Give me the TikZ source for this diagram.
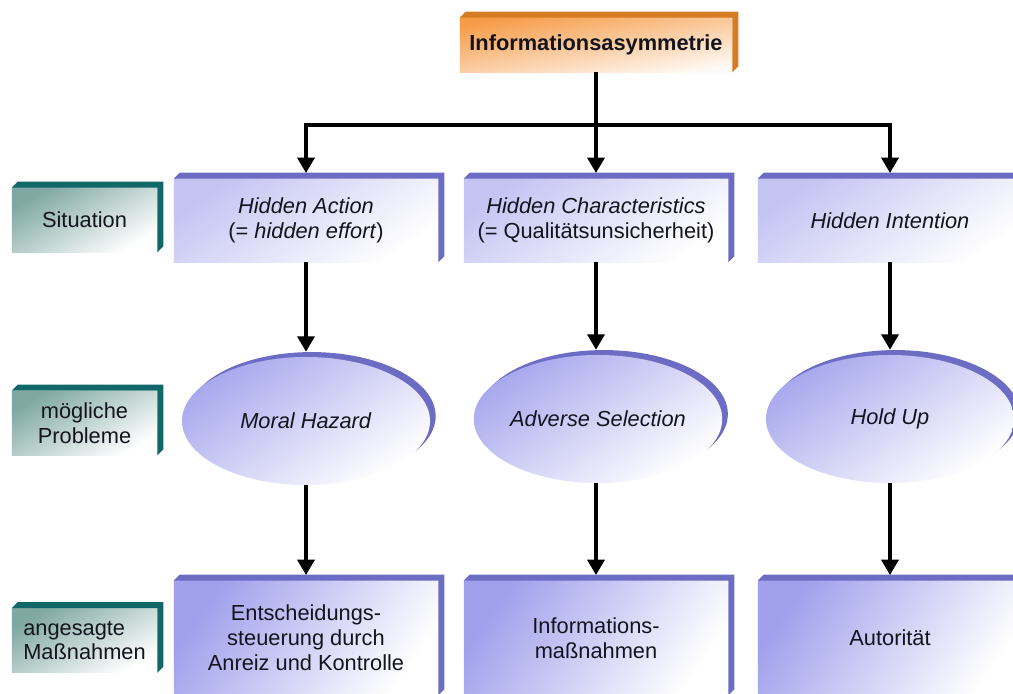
\documentclass[tikz,border=0pt]{standalone}
\usepackage{fontspec}
\setmainfont{Liberation Sans}
\usepackage{tikz}
\usetikzlibrary{shapes.geometric, arrows.meta, shadows}
\usepackage{xcolor}

\definecolor{vio}{RGB}{160,160,236}
\definecolor{viodark}{RGB}{108,108,196}
\definecolor{tealface}{RGB}{128,168,162}
\definecolor{tealdark}{RGB}{18,104,104}
\definecolor{orangeface}{RGB}{246,156,72}
\definecolor{orangedark}{RGB}{214,124,34}
\definecolor{ink}{RGB}{20,20,30}

\newcommand{\extrude}[2]{%
  \fill[#2] (#1.north west) -- ([shift={(6,-6)}]#1.north west)
    -- ([shift={(6,-6)}]#1.north east) -- ([shift={(6,-6)}]#1.south east)
    -- (#1.south east) -- (#1.north east) -- cycle;}

\tikzset{
  box/.style={rectangle, inner sep=0pt, align=center, text=ink,
    font=\fontsize{15.5}{17.7}\selectfont},
  headbox/.style={box, minimum width=6.8cm, minimum height=1.35cm,
    top color=orangeface, bottom color=orangeface!6, shading angle=10,
    font=\fontsize{15.5}{17.7}\selectfont\bfseries},
  sitbox/.style={box, minimum width=6.6cm, minimum height=2.075cm,
    top color=vio!62, bottom color=white, shading angle=35},
  probell/.style={ellipse, inner sep=0pt, minimum width=6.2cm, minimum height=3.2cm,
    text=ink, font=\fontsize{15.5}{17.7}\selectfont,
    top color=vio!92, bottom color=white, shading angle=35,
    drop shadow={shadow xshift=4pt, shadow yshift=3.5pt, fill=viodark, opacity=1}},
  measbox/.style={box, minimum width=6.6cm, minimum height=2.85cm,
    top color=vio, bottom color=white, shading angle=55},
  rowlabel/.style={box, minimum width=3.625cm, minimum height=1.6cm,
    top color=tealface, bottom color=white, shading angle=30},
  conn/.style={line width=3.2pt, -{Triangle[width=12pt,length=11pt]}}
}

\begin{document}
\begin{tikzpicture}[x=0.025cm, y=-0.025cm]

  \clip (0,0) rectangle (1013,693);

  \node[headbox] (info) at (596,45) {Informationsasymmetrie};
  \extrude{info}{orangedark}

  \node[rowlabel] (lsit) at (84.5,220) {Situation};
  \node[sitbox] (hact) at (306,220.5) {\textit{Hidden Action}\\(= \textit{hidden effort})};
  \node[sitbox] (hchar) at (596,220.5) {\textit{Hidden Characteristics}\\(= Qualitätsunsicherheit)};
  \node[sitbox] (hint) at (890,220.5) {\textit{Hidden Intention}};

  \node[rowlabel] (lprob) at (84.5,423) {mögliche\\Probleme};
  \node[probell] (moral) at (306,421) {\textit{Moral Hazard}};
  \node[probell] (adverse) at (598,419) {\textit{Adverse Selection}};
  \node[probell] (holdup) at (890,419) {\textit{Hold Up}};

  \node[rowlabel, align=left] (lmeas) at (84.5,640.5) {angesagte\\Maßnahmen};
  \node[measbox] (steuer) at (306,638) {Entscheidungs-\\steuerung durch\\Anreiz und Kontrolle};
  \node[measbox] (infomass) at (596,638) {Informations-\\maßnahmen};
  \node[measbox] (autor) at (890,638) {Autorität};

  \foreach \n in {lsit, lprob, lmeas}
    \extrude{\n}{tealdark};
  \foreach \n in {hact, hchar, hint, steuer, infomass, autor}
    \extrude{\n}{viodark};

  \coordinate (split) at (596,125);
  \draw[conn] (info.south) -- ([yshift=4pt]hchar.north);
  \draw[conn] (split) -| ([yshift=4pt]hact.north);
  \draw[conn] (split) -| ([yshift=4pt]hint.north);

  \draw[conn] (hact.south) -- ([yshift=3.5pt]moral.north);
  \draw[conn] (hchar.south) -- ([yshift=3.5pt]hchar.south |- adverse.north);
  \draw[conn] (hint.south) -- ([yshift=3.5pt]holdup.north);

  \draw[conn] (moral.south) -- ([yshift=4pt]steuer.north);
  \draw[conn] (adverse.south -| infomass.north) -- ([yshift=4pt]infomass.north);
  \draw[conn] (holdup.south) -- ([yshift=4pt]autor.north);

\end{tikzpicture}
\end{document}
